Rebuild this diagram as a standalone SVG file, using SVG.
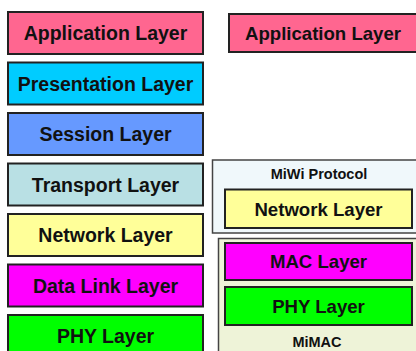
<svg xmlns="http://www.w3.org/2000/svg" width="416" height="351" viewBox="0 0 416 351">
<style>
.box{stroke:#222;stroke-width:2}
.cont{stroke:#444;stroke-width:1.5}
text{font-family:"Liberation Sans",Arial,sans-serif;font-weight:bold;fill:#111;text-anchor:middle}
.big{font-size:19.5px}
.mid{font-size:18.6px}
.small{font-size:14.5px}
</style>
<rect width="416" height="351" fill="#ffffff"/>
<g id="osi-application"><rect class="box" x="8" y="12" width="195" height="42" fill="#ff6690"/><text class="big" x="105.5" y="40">Application Layer</text></g>
<g id="osi-presentation"><rect class="box" x="8" y="62.5" width="195" height="42" fill="#00ccff"/><text class="big" x="105.5" y="90.5">Presentation Layer</text></g>
<g id="osi-session"><rect class="box" x="8" y="113" width="195" height="42" fill="#6699ff"/><text class="big" x="105.5" y="141">Session Layer</text></g>
<g id="osi-transport"><rect class="box" x="8" y="163.5" width="195" height="42" fill="#b9e0e4"/><text class="big" x="105.5" y="191.5">Transport Layer</text></g>
<g id="osi-network"><rect class="box" x="8" y="214" width="195" height="42" fill="#ffff99"/><text class="big" x="105.5" y="242">Network Layer</text></g>
<g id="osi-datalink"><rect class="box" x="8" y="264.5" width="195" height="42" fill="#ff00ff"/><text class="big" x="105.5" y="292.5">Data Link Layer</text></g>
<g id="osi-phy"><rect class="box" x="8" y="315" width="195" height="42" fill="#00ff00"/><text class="big" x="105.5" y="343">PHY Layer</text></g>

<g id="miwi-application"><rect class="box" x="229" y="14" width="190" height="38" fill="#ff6690"/><text class="mid" x="323" y="39.5">Application Layer</text></g>
<g id="miwi-protocol"><rect class="cont" x="212.5" y="160" width="210" height="73" fill="#f0f8fb"/><text class="small" x="319" y="179">MiWi Protocol</text>
<g id="miwi-network"><rect class="box" x="225" y="189.5" width="187" height="38.5" fill="#ffff99"/><text class="mid" x="318.5" y="215.5">Network Layer</text></g></g>
<g id="mimac"><rect class="cont" x="218.5" y="238.5" width="205" height="120" fill="#eef3d8"/><text class="small" x="317" y="347">MiMAC</text>
<g id="mimac-mac"><rect class="box" x="225" y="243" width="187" height="37" fill="#ff00ff"/><text class="mid" x="318.5" y="268">MAC Layer</text></g>
<g id="mimac-phy"><rect class="box" x="225" y="287" width="187" height="38" fill="#00ff00"/><text class="mid" x="318.5" y="312.5">PHY Layer</text></g></g>
<g id="connectors"/>
</svg>
